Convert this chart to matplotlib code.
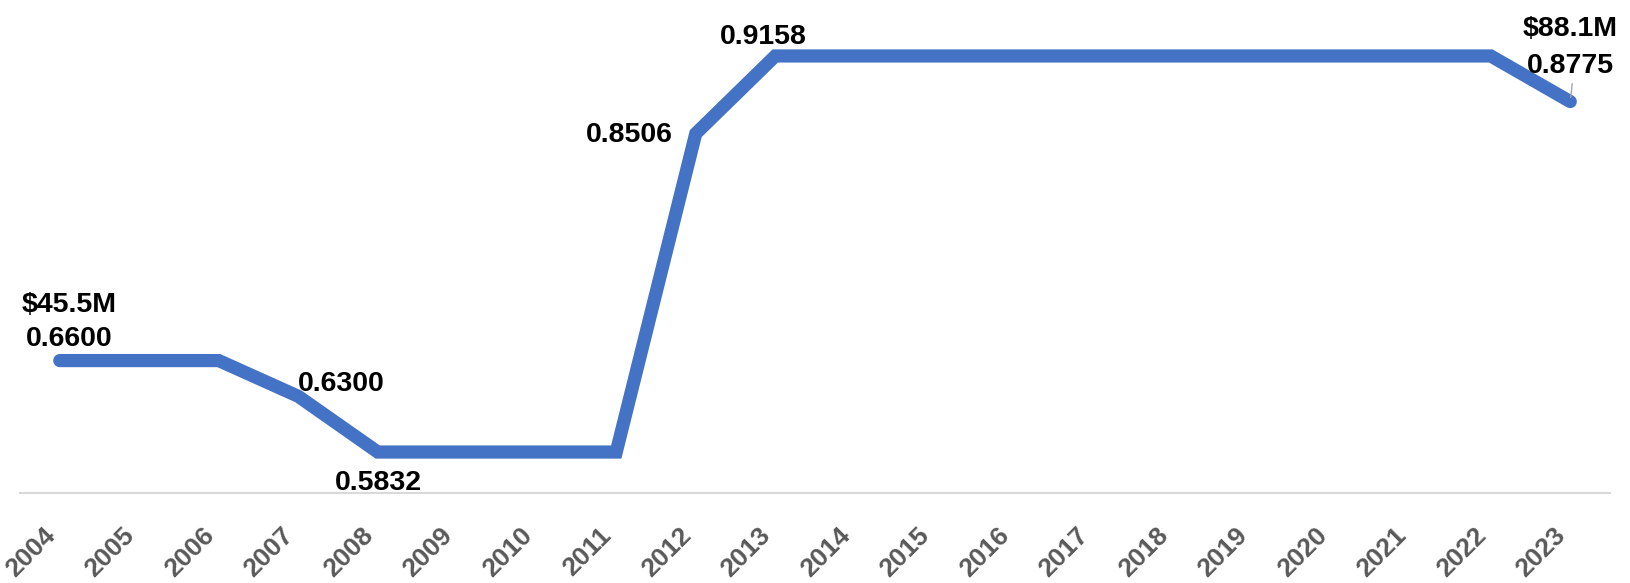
import matplotlib.pyplot as plt

years = [str(y) for y in range(2004, 2024)]
values = [0.6600, 0.6600, 0.6600, 0.6300, 0.5832, 0.5832, 0.5832, 0.5832,
          0.8506, 0.9158, 0.9158, 0.9158, 0.9158, 0.9158, 0.9158, 0.9158,
          0.9158, 0.9158, 0.9158, 0.8775]

# points that carry a data label, and the dollar amount shown above some of them
label_idx = [0, 3, 4, 8, 9, 19]
dollar_text = {0: "$45.5M", 19: "$88.1M"}

LINE_COLOR = "#4472C4"
FONT = ["Liberation Sans", "DejaVu Sans"]

fig = plt.figure(figsize=(16.3, 5.83), dpi=100)
ax = fig.add_axes([20 / 1630, 90 / 583, 1590 / 1630, 493 / 583])

x = list(range(len(years)))
ax.plot(x, values, color=LINE_COLOR, linewidth=9.5,
        solid_capstyle="round", solid_joinstyle="miter")

ax.set_xlim(-0.5, len(years) - 0.5)
ax.set_ylim(0.5488, 0.9628)

for side in ["top", "right", "left"]:
    ax.spines[side].set_visible(False)
ax.spines["bottom"].set_color("#D9D9D9")
ax.spines["bottom"].set_linewidth(1.5)
ax.set_yticks([])
ax.set_xticks(x)
ax.set_xticklabels(years, rotation=45, ha="right", va="top",
                   fontsize=19, fontweight="bold", color="#595959",
                   family=FONT)
ax.tick_params(axis="x", length=0, pad=22)

# label placement: (ha, va, dx, dy, linespacing) in pixels
placement = {
    0: ("center", "bottom", 9, 9, 1.38),
    3: ("left", "bottom", 0, -1, 1.2),
    4: ("center", "top", 1, -18, 1.2),
    8: ("right", "center", -23, -1, 1.2),
    9: ("center", "bottom", -12, 6, 1.2),
    19: ("center", "bottom", 0, 23, 1.53),
}

for i in label_idx:
    text = f"{values[i]:.4f}"
    if i in dollar_text:
        text = dollar_text[i] + "\n" + text
    ha, va, dx, dy, ls = placement[i]
    ax.annotate(text, (x[i], values[i]), xytext=(dx, dy),
                textcoords="offset pixels", ha=ha, va=va,
                fontsize=20.5, fontweight="bold", color="black",
                family=FONT, linespacing=ls, multialignment="center")

# small leader line on the last label
ax.annotate("", (x[-1], values[-1]), xytext=(2, 18), textcoords="offset pixels",
            arrowprops=dict(arrowstyle="-", color="#A6A6A6", lw=1.0,
                            shrinkA=0, shrinkB=3))

fig.savefig("out.png", dpi=100)
